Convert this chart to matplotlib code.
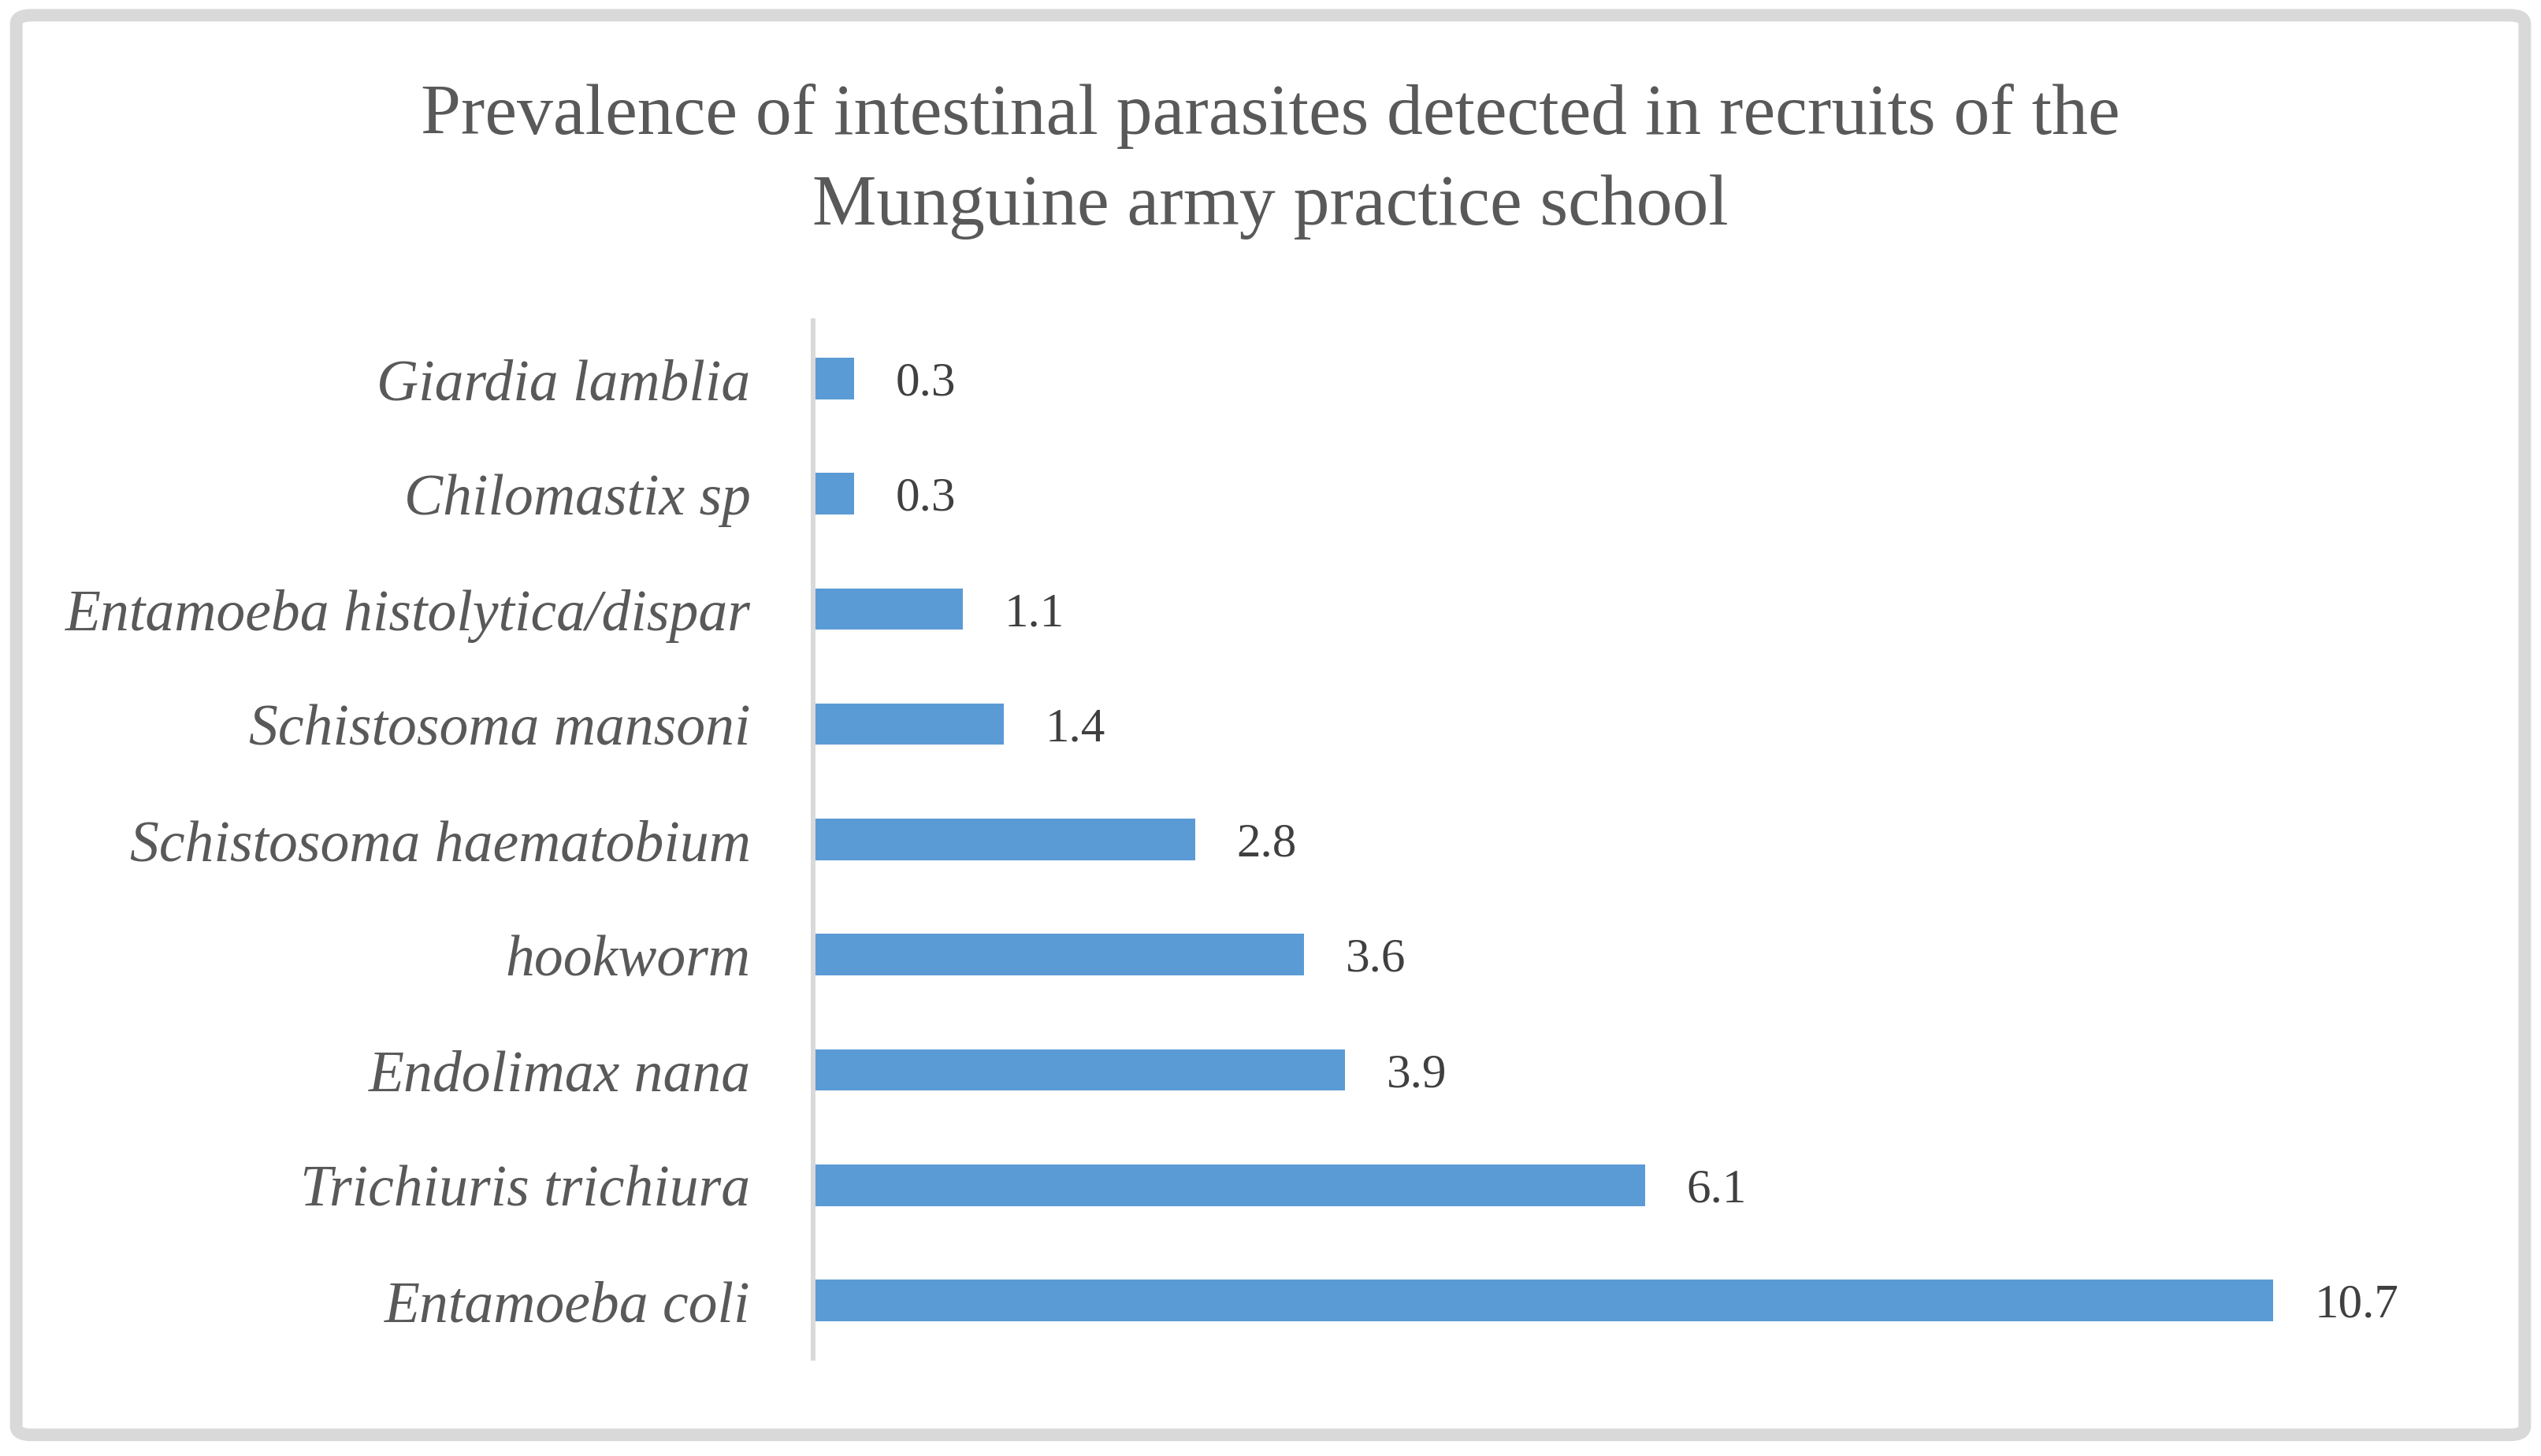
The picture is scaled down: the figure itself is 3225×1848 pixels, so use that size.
import matplotlib.pyplot as plt
from matplotlib.patches import FancyBboxPatch

# datos (de abajo hacia arriba)
parasites = ['Entamoeba coli', 'Trichiuris trichiura', 'Endolimax nana', 'hookworm',
             'Schistosoma haematobium', 'Schistosoma mansoni',
             'Entamoeba histolytica/dispar', 'Chilomastix sp', 'Giardia lamblia']
prevalence = [10.7, 6.1, 3.9, 3.6, 2.8, 1.4, 1.1, 0.3, 0.3]
value_labels = ['10.7', '6.1', '3.9', '3.6', '2.8', '1.4', '1.1', '0.3', '0.3']

plt.rcParams['font.family'] = ['Liberation Serif', 'DejaVu Serif']

fig = plt.figure(figsize=(32.25, 18.49), dpi=100)
ax = fig.add_axes([0.3199, 0.0673, 0.6444, 0.7119])

pos = list(range(len(parasites)))
ax.barh(pos, prevalence, height=0.36, color='#5B9BD5')

for p, v, lab in zip(pos, prevalence, value_labels):
    ax.annotate(lab, (v, p), xytext=(38, -4), textcoords='offset points',
                va='center', ha='left', fontsize=44, color='#404040')

ax.set_xlim(0, 12)
ax.set_ylim(-0.5, len(parasites) - 0.5)
ax.set_yticks(pos)
ax.set_yticklabels(parasites, fontsize=53, style='italic', color='#595959')
ax.tick_params(axis='y', length=0, pad=57)
ax.set_xticks([])
for s in ['top', 'right', 'bottom']:
    ax.spines[s].set_visible(False)
ax.spines['left'].set_color('#D9D9D9')
ax.spines['left'].set_linewidth(4.3)

# titulo
fig.text(0.5, 0.920, 'Prevalence of intestinal parasites detected in recruits of the',
         ha='center', va='center', fontsize=66, color='#595959')
fig.text(0.5, 0.858, 'Munguine army practice school',
         ha='center', va='center', fontsize=66, color='#595959')

# marco
frame = FancyBboxPatch((0.0064, 0.0145), 0.9872, 0.9745,
                       boxstyle='round,pad=0,rounding_size=0.006',
                       transform=fig.transFigure, facecolor='none',
                       edgecolor='#D9D9D9', linewidth=11.5)
fig.patches.append(frame)

fig.savefig('out.png', dpi=100)
